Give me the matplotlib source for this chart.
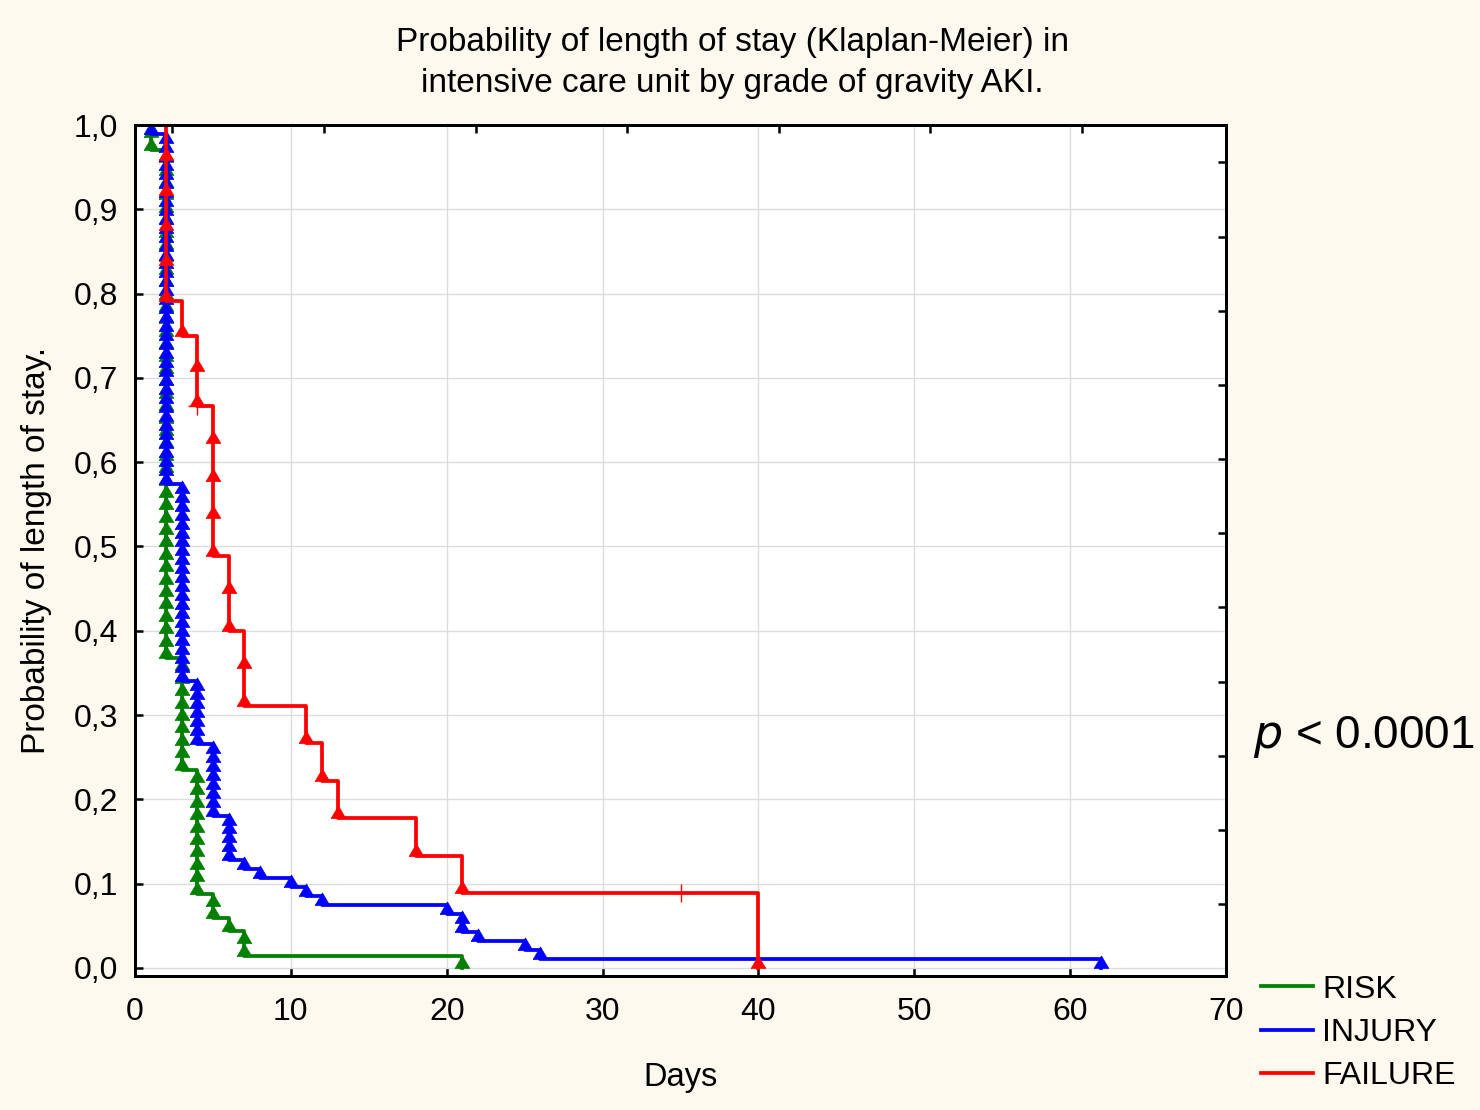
import numpy as np
import matplotlib
matplotlib.use('Agg')
import matplotlib.pyplot as plt

plt.rcParams['font.family'] = ['Liberation Sans', 'DejaVu Sans']

# Kaplan-Meier input: time (days), number of completed stays, number censored
risk_times = [1, 2, 3, 4, 5, 6, 7, 21]
risk_events = [2, 41, 9, 10, 2, 1, 2, 1]
risk_censored = [0, 0, 0, 0, 0, 0, 0, 0]

injury_times = [1, 2, 3, 4, 5, 6, 7, 8, 10, 11, 12, 20, 21, 22, 25, 26, 62]
injury_events = [1, 39, 22, 7, 8, 5, 1, 1, 1, 1, 1, 1, 2, 1, 1, 1, 1]
injury_censored = [0] * 17

failure_times = [2, 3, 4, 5, 6, 7, 11, 12, 13, 18, 21, 35, 40]
failure_events = [5, 1, 2, 4, 2, 2, 1, 1, 1, 1, 1, 0, 1]
failure_censored = [0, 0, 1, 0, 0, 0, 0, 0, 0, 0, 0, 1, 0]

groups = ['RISK', 'INJURY', 'FAILURE']
colors = ['#008000', '#0000ff', '#ff0000']

x_ticks = [0, 10, 20, 30, 40, 50, 60, 70]
y_ticks = [0.0, 0.1, 0.2, 0.3, 0.4, 0.5, 0.6, 0.7, 0.8, 0.9, 1.0]
y_ticklabels = ['0,0', '0,1', '0,2', '0,3', '0,4', '0,5', '0,6', '0,7', '0,8', '0,9', '1,0']
top_ticks = [2.37, 12.13, 21.88, 31.57, 41.32, 51.0, 60.76]
right_ticks = [0.076, 0.164, 0.251, 0.339, 0.428, 0.516, 0.604, 0.692, 0.779, 0.867, 0.956]


def kaplan_meier(times, events, censored):
    n = sum(events) + sum(censored)
    s = 1.0
    xs, ys = [0.0], [1.0]
    ev_x, ev_y, cen_x, cen_y = [], [], [], []
    for t, d, c in zip(times, events, censored):
        for k in range(1, d + 1):
            ev_x.append(t)
            ev_y.append(s * (n - k) / n)
        if d:
            s = s * (n - d) / n
        xs.append(t)
        ys.append(s)
        for _ in range(c):
            cen_x.append(t)
            cen_y.append(s)
        n -= d + c
    return xs, ys, ev_x, ev_y, cen_x, cen_y


# triangle sitting on the point (Statistica style)
tri = [(-1.0, 0.0), (1.0, 0.0), (0.0, 1.7), (-1.0, 0.0)]

fig = plt.figure(figsize=(14.8, 11.1), dpi=100, facecolor='#fdf9ee')
ax = fig.add_axes([135 / 1480, 1 - 976 / 1110, (1226 - 135) / 1480, (976 - 125) / 1110])
ax.set_facecolor('white')

data = [(risk_times, risk_events, risk_censored),
        (injury_times, injury_events, injury_censored),
        (failure_times, failure_events, failure_censored)]

for (t, d, c), name, col in zip(data, groups, colors):
    xs, ys, ex, ey, cx, cy = kaplan_meier(t, d, c)
    ax.step(xs, ys, where='post', color=col, lw=2.7, label=name, zorder=3)
    ax.plot(ex, ey, ls='none', marker=tri, ms=18, color=col, mec=col, mew=0.5, zorder=3)
    if cx:
        ax.plot(cx, cy, ls='none', marker='+', ms=13, mew=1.0, color=col, zorder=3)

ax.set_xlim(0, 70)
ax.set_ylim(-0.0095, 1.0)
ax.set_xticks(x_ticks)
ax.set_yticks(y_ticks)
ax.set_yticklabels(y_ticklabels)
ax.tick_params(direction='in', length=6, width=1.8, labelsize=23, colors='black')
ax.tick_params(axis='x', pad=15)
ax.tick_params(axis='y', pad=12)
ax.grid(True, color='#dcdcdc', lw=1.0, zorder=0)
for sp in ax.spines.values():
    sp.set_linewidth(2.0)
    sp.set_color('black')

ax_top = ax.twiny()
ax_top.set_xlim(ax.get_xlim())
ax_top.set_xticks(top_ticks)
ax_top.set_xticklabels([])
ax_top.tick_params(direction='in', length=6, width=1.8)
ax_right = ax.twinx()
ax_right.set_ylim(ax.get_ylim())
ax_right.set_yticks(right_ticks)
ax_right.set_yticklabels([])
ax_right.tick_params(direction='in', length=6, width=1.8)
for a in (ax_top, ax_right):
    for sp in a.spines.values():
        sp.set_linewidth(2.0)

ax.set_xlabel('Days', fontsize=23.5, labelpad=25)
ax.set_ylabel('Probability of length of stay.', fontsize=24, labelpad=16)

fig.text(732 / 1480, 1 - 63 / 1110,
         'Probability of length of stay (Klaplan-Meier) in\nintensive care unit by grade of gravity AKI.',
         ha='center', va='center', fontsize=24, linespacing=1.45)

fig.text(1253 / 1480, 1 - 737 / 1110, r'$\it{p}$ < 0.0001', fontsize=33,
         ha='left', va='center')

handles, labels = ax.get_legend_handles_labels()
fig.legend(handles, labels, loc='center left', bbox_to_anchor=(1232 / 1480, 1 - 1033 / 1110),
           frameon=False, fontsize=23, handlelength=1.65, handletextpad=0.28,
           labelspacing=0.42)

fig.savefig('out.png', dpi=100, facecolor=fig.get_facecolor())
